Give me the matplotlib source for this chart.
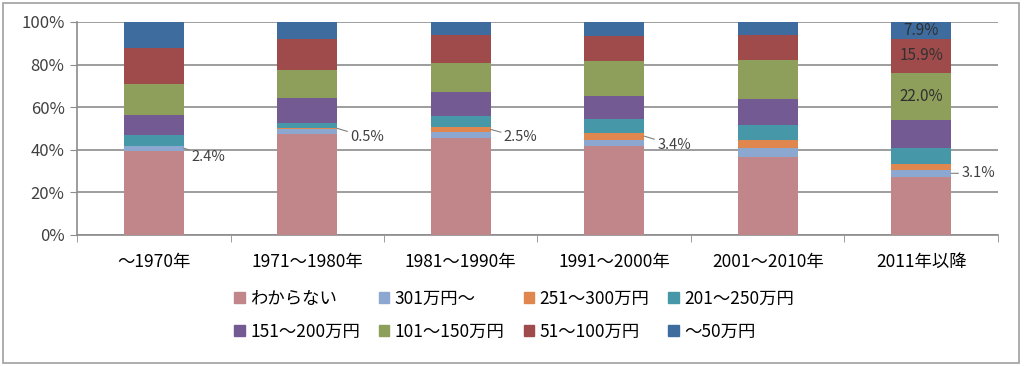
import matplotlib
matplotlib.use("Agg")
from matplotlib import pyplot as plt
from matplotlib.patches import Rectangle, Patch
import numpy as np

plt.rcParams['font.family'] = ['Noto Sans CJK JP', 'DejaVu Sans']

categories = ["～1970年", "1971～1980年", "1981～1990年", "1991～2000年", "2001～2010年", "2011年以降"]
series_names = ["わからない", "301万円～", "251～300万円", "201～250万円",
                "151～200万円", "101～150万円", "51～100万円", "～50万円"]
colors = ["#C0868A", "#8DA8D0", "#E0874F", "#4697A8", "#735A92", "#8D9F5A", "#A04B4B", "#3E6C9F"]

wakaranai = [39.6, 47.2, 45.5, 41.6, 36.6, 27.4]
over301 = [2.4, 2.6, 2.8, 3.1, 4.2, 3.1]
r251_300 = [0.0, 0.5, 2.5, 3.4, 3.6, 2.8]
r201_250 = [5.0, 2.2, 5.0, 6.5, 7.0, 7.3]
r151_200 = [9.3, 11.9, 11.4, 10.6, 12.5, 13.6]
r101_150 = [14.8, 13.2, 13.3, 16.4, 18.4, 22.0]
r51_100 = [16.8, 14.3, 13.2, 11.7, 11.5, 15.9]
under50 = [12.1, 8.1, 6.3, 6.7, 6.2, 7.9]

values = [wakaranai, over301, r251_300, r201_250, r151_200, r101_150, r51_100, under50]

# labels outside the bars: (series, bar, text offset px)
outside_labels = [(1, 0, (8, -9)), (2, 1, (13, -9)), (2, 2, (13, -8)), (2, 3, (13, -9)), (1, 5, (10, 0))]
# labels inside last bar
inside_labels = [(7, 5), (6, 5), (5, 5)]

fig = plt.figure(figsize=(10.24, 3.66), dpi=100)
ax = fig.add_axes([0.0752, 0.358, 0.8994, 0.582])

x = np.arange(len(categories))
width = 0.39
bottom = np.zeros(len(categories))
bottoms = []
for vals, c in zip(values, colors):
    bottoms.append(bottom.copy())
    ax.bar(x, vals, width, bottom=bottom, color=c, zorder=3)
    bottom += np.array(vals)

for s, b, off in outside_labels:
    v = values[s][b]
    ymid = bottoms[s][b] + v / 2
    ax.annotate(f"{v:.1f}%", xy=(b + width / 2, ymid), xytext=off, textcoords="offset pixels",
                ha="left", va="center", fontsize=10.5, color="#404040",
                arrowprops=dict(arrowstyle="-", color="#808080", lw=0.8, shrinkA=0, shrinkB=0))

for s, b in inside_labels:
    v = values[s][b]
    ax.text(b, bottoms[s][b] + v / 2, f"{v:.1f}%", ha="center", va="center",
            fontsize=11, color="#303030", zorder=4)

ax.set_xlim(-0.5, len(categories) - 0.5)
ax.set_ylim(0, 100)
ax.set_yticks(np.arange(0, 101, 20))
ax.set_yticklabels([f"{v}%" for v in range(0, 101, 20)], fontsize=12, color="#404040")
ax.yaxis.grid(True, color="#8C8C8C", lw=1.2, zorder=0)
ax.set_xticks(x)
ax.set_xticklabels(categories, fontsize=12.5)
ax.set_xticks(np.arange(-0.5, len(categories)), minor=True)
ax.tick_params(axis="x", which="major", length=0, pad=13)
ax.tick_params(axis="x", which="minor", length=5, color="#8C8C8C")
ax.tick_params(axis="y", length=5, color="#8C8C8C", pad=4)
for sp in ["top", "right"]:
    ax.spines[sp].set_visible(False)
for sp in ["left", "bottom"]:
    ax.spines[sp].set_color("#8C8C8C")
    ax.spines[sp].set_linewidth(1.2)

handles = [Patch(color=c) for c in colors]
order = [0, 4, 1, 5, 2, 6, 3, 7]
fig.legend([handles[i] for i in order], [series_names[i] for i in order], ncol=4,
           loc="center", bbox_to_anchor=(0.502, 0.139), frameon=False, fontsize=12.5,
           handlelength=0.6, handleheight=0.6, handletextpad=0.3, columnspacing=1.1,
           labelspacing=0.85)

fig.patches.append(Rectangle((0.003, 0.008), 0.992, 0.984, transform=fig.transFigure,
                             fill=False, edgecolor="#A0A0A0", lw=1.2))

fig.savefig("out.png", dpi=100)
